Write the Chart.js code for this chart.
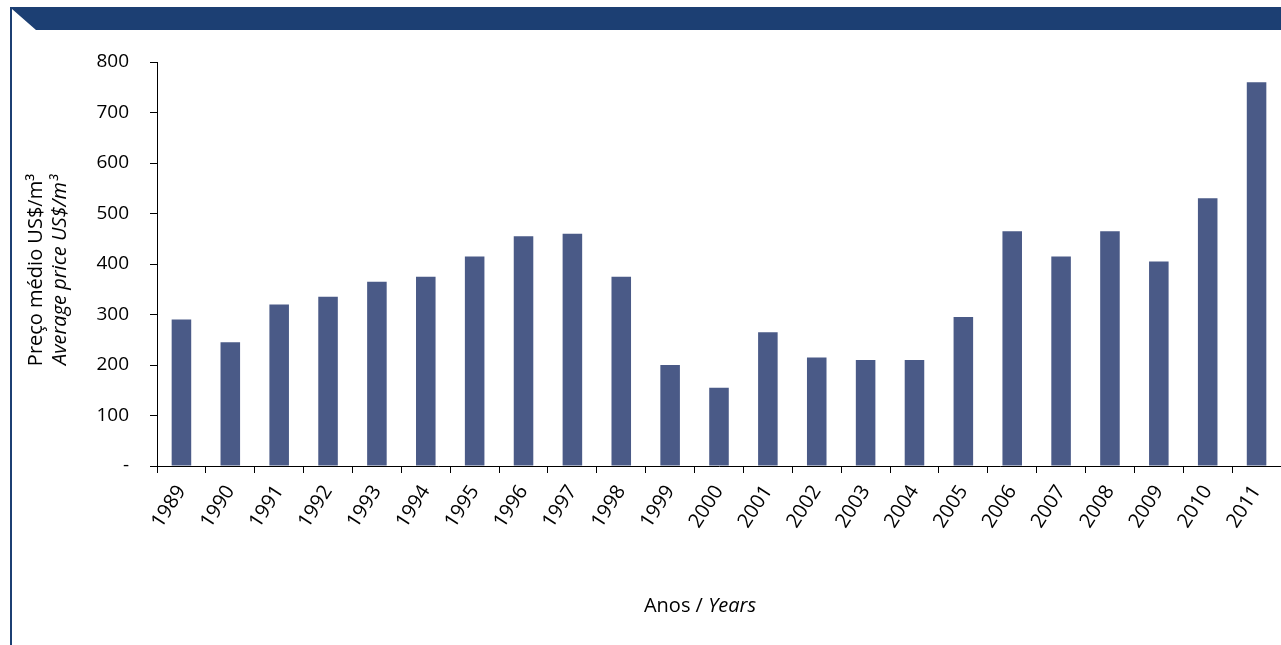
<!DOCTYPE html>
<html>
<head>
<meta charset="utf-8">
<script src="https://cdn.jsdelivr.net/npm/chart.js@4/dist/chart.umd.min.js"></script>
<style>
  html, body { margin: 0; padding: 0; background: #fff; }
  #box { position: relative; width: 1281px; height: 645px; }
</style>
</head>
<body>
<div id="box"><canvas id="myChart"></canvas></div>
<script>
// data
var years = ["1989", "1990", "1991", "1992", "1993", "1994", "1995", "1996", "1997", "1998", "1999", "2000",
             "2001", "2002", "2003", "2004", "2005", "2006", "2007", "2008", "2009", "2010", "2011"];
var prices = [290, 245, 320, 335, 365, 375, 415, 455, 460, 375, 200, 155,
              265, 215, 210, 210, 295, 465, 415, 465, 405, 530, 760];
var yTicks = [0, 100, 200, 300, 400, 500, 600, 700, 800];

var FONT = "'Open Sans', 'Noto Sans', sans-serif";
var NAVY = "#1c3f73";

// header band, left rule and axis titles
var decor = {
  id: "decor",
  beforeDraw: function(chart) {
    var ctx = chart.ctx;
    ctx.save();
    ctx.fillStyle = NAVY;
    ctx.beginPath();
    ctx.moveTo(10, 7);
    ctx.lineTo(1281, 7);
    ctx.lineTo(1281, 30);
    ctx.lineTo(36, 30);
    ctx.lineTo(12, 9);
    ctx.lineTo(12, 645);
    ctx.lineTo(10, 645);
    ctx.closePath();
    ctx.fill();
    ctx.restore();
  },
  afterDraw: function(chart) {
    var ctx = chart.ctx;
    var area = chart.chartArea;
    var midY = (area.top + area.bottom) / 2 + 6;
    ctx.save();
    ctx.fillStyle = "#000";
    ctx.textBaseline = "middle";
    ctx.textAlign = "center";
    ctx.translate(36, midY);
    ctx.rotate(-Math.PI / 2);
    ctx.font = "20px " + FONT;
    ctx.fillText("Preço médio US$/m³", 0, 0);
    ctx.font = "italic 20px " + FONT;
    ctx.fillText("Average price US$/m³", 0, 24);
    ctx.restore();

    ctx.save();
    ctx.fillStyle = "#000";
    ctx.textBaseline = "middle";
    ctx.textAlign = "left";
    var a = "Anos / ", b = "Years";
    ctx.font = "20px " + FONT;
    var wa = ctx.measureText(a).width;
    ctx.font = "italic 20px " + FONT;
    var wb = ctx.measureText(b).width;
    var x0 = 700 - (wa + wb) / 2;
    ctx.font = "20px " + FONT;
    ctx.fillText(a, x0, 606);
    ctx.font = "italic 20px " + FONT;
    ctx.fillText(b, x0 + wa, 606);
    ctx.restore();
  }
};

var chart = new Chart(document.getElementById("myChart"), {
  type: "bar",
  data: {
    labels: years,
    datasets: [{
      data: prices,
      backgroundColor: "#4a5a87",
      borderWidth: 0,
      barPercentage: 0.4,
      categoryPercentage: 1
    }]
  },
  options: {
    responsive: true,
    maintainAspectRatio: false,
    animation: false,
    events: [],
    layout: { padding: { top: 62, left: 0, right: 0, bottom: 0 } },
    plugins: { legend: { display: false }, tooltip: { enabled: false } },
    scales: {
      x: {
        afterFit: function(scale) {
          scale.height = 645 - 62 - 404;
          scale.paddingRight = 0;
          scale.paddingLeft = 0;
        },
        grid: { drawOnChartArea: false, drawTicks: true, tickLength: 7, color: "#000", offset: true },
        border: { display: true, color: "#000", width: 1 },
        ticks: { color: "#000", font: { family: FONT, size: 20 }, minRotation: 57, maxRotation: 57, padding: 8, autoSkip: false }
      },
      y: {
        min: 0,
        max: 800,
        afterFit: function(scale) { scale.width = 157; },
        afterBuildTicks: function(scale) { scale.ticks = yTicks.map(function(v) { return { value: v }; }); },
        grid: { drawOnChartArea: false, drawTicks: true, tickLength: 7, color: "#000" },
        border: { display: true, color: "#000", width: 1 },
        ticks: {
          color: "#000",
          font: { family: FONT, size: 19 },
          padding: 21,
          callback: function(v) { return v === 0 ? "-" : v; }
        }
      }
    }
  },
  plugins: [decor]
});
</script>
</body>
</html>
